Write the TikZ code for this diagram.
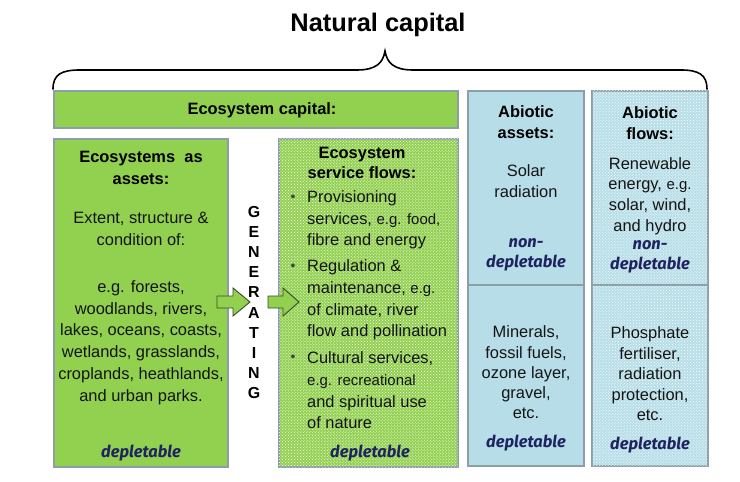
\documentclass[tikz,border=0pt]{standalone}
\usepackage{fontspec}
\setmainfont{Liberation Sans}
\newfontfamily\depfont{Fira Sans}
\usetikzlibrary{patterns}
\definecolor{grn}{HTML}{92D050}
\definecolor{blu}{HTML}{B7DEE8}
\definecolor{bord}{HTML}{8C9EA6}
\definecolor{navy}{HTML}{1F2460}
\definecolor{txt}{HTML}{141414}
\definecolor{arrline}{HTML}{3A4A2A}
\newcommand{\eg}{\fontsize{15}{20}\selectfont}
\tikzset{
  box/.style={draw=bord, line width=1.5bp, anchor=north west, inner sep=0pt, outer sep=0pt},
  gbox/.style={box, fill=grn},
  bbox/.style={box, fill=blu},
  dotted fill/.style={postaction={pattern=crosshatch dots, pattern color=white}},
  body/.style={font=\fontsize{16.5}{#1}\selectfont, align=center, inner sep=0pt, text=txt},
  body/.default={21.7bp},
  head/.style={font=\fontsize{16.5}{#1}\selectfont\bfseries, align=center, inner sep=0pt, text=black},
  head/.default={21.5bp},
  dep/.style={font=\depfont\fontsize{16.5}{20bp}\selectfont\bfseries\itshape, text=navy, inner sep=0pt, align=center},
  bul/.style={font=\fontsize{14}{16}\selectfont, inner sep=0pt, text=txt!80},
  blockarrow/.style={fill=grn, draw=arrline, line width=0.9bp, line join=miter}
}
\begin{document}
\begin{tikzpicture}[x=1bp, y=-1bp]
\useasboundingbox (0,0) rectangle (740,482);

% title and brace
\node[font=\fontsize{25.5}{30}\selectfont\bfseries, inner sep=0pt] (title) at (378,25) {Natural capital};
\draw[line width=1.6bp, line cap=round] (53,89) .. controls (53,74) and (62,70) .. (80,70)
  -- (357,70) .. controls (376,70) and (383,63) .. (385,51)
  .. controls (387,63) and (394,70) .. (413,70)
  -- (681,70) .. controls (699,70) and (707,75) .. (707,89);

% boxes
\node[gbox, minimum width=404bp, minimum height=37bp] (ecocap) at (54,91) {};
\node[gbox, minimum width=174bp, minimum height=328bp] (assets) at (54,139) {};
\node[gbox, dotted fill, minimum width=179bp, minimum height=328bp] (flows) at (279,139) {};
\node[bbox, minimum width=116bp, minimum height=194bp] (abAtop) at (468,91) {};
\node[bbox, minimum width=116bp, minimum height=181bp] (abAbot) at (468,285) {};
\node[bbox, dotted fill, minimum width=116bp, minimum height=194bp] (abFtop) at (592,91) {};
\node[bbox, dotted fill, minimum width=116bp, minimum height=181bp] (abFbot) at (592,285) {};

% ecosystem capital
\node[head] (ecocapt) at (262,110) {Ecosystem capital:};

% ecosystems as assets
\node[head={22bp}] (asst1) at (141,168) {Ecosystems~~as\\assets:};
\node[body] (asst2) at (141,229) {Extent, structure \&\\condition of:};
\node[body={21.8bp}] (asst3) at (141,342.5) {e.g. forests,\\woodlands, rivers,\\lakes, oceans, coasts,\\wetlands, grasslands,\\croplands, heathlands,\\and urban parks.};
\node[dep] (asstd) at (141,453) {depletable};

% generating
\node[font=\fontsize{16}{20.1bp}\selectfont\bfseries, align=center, inner sep=0pt] (gen) at (254,302.5) {G\\E\\N\\E\\R\\A\\T\\I\\N\\G};
\draw[blockarrow] (217,296) -- (233,296) -- (233,288) -- (250,302) -- (233,316) -- (233,308) -- (217,308) -- cycle;
\draw[blockarrow] (268,296) -- (283,296) -- (283,288) -- (299,302) -- (283,316) -- (283,308) -- (268,308) -- cycle;

% ecosystem service flows
\node[head={20.5bp}] (flt) at (362,163) {Ecosystem\\service flows:};
\node[bul] (b1) at (293,198) {\textbullet};
\node[bul] (b2) at (293,267) {\textbullet};
\node[bul] (b3) at (293,358) {\textbullet};
\node[body, align=left, anchor=west] (it1) at (307,220) {Provisioning\\services, {\eg e.g. food,}\\fibre and energy};
\node[body, align=left, anchor=west] (it2) at (307,300) {Regulation \&\\maintenance, {\eg e.g.}\\of climate, river\\flow and pollination};
\node[body, align=left, anchor=west] (it3) at (307,390.5) {Cultural services,\\{\eg e.g. recreational}\\and spiritual use\\of nature};
\node[dep] (fld) at (370,453) {depletable};

% abiotic assets
\node[head={21bp}] (aat) at (526,122.5) {Abiotic\\assets:};
\node[body={21bp}] (aa1) at (526,181.5) {Solar\\radiation};
\node[dep] (aad1) at (526,255) {non-\\depletable};
\node[body={20.3bp}] (aa2) at (526,372.5) {Minerals,\\fossil fuels,\\ozone layer,\\gravel,\\etc.};
\node[dep] (aad2) at (526,443) {depletable};

% abiotic flows
\node[head={21bp}] (aft) at (650,123) {Abiotic\\flows:};
\node[body={20.7bp}] (af1) at (650,196) {Renewable\\energy, {\eg e.g.}\\solar, wind,\\and hydro};
\node[dep] (afd1) at (650,257) {non-\\depletable};
\node[body={20.5bp}] (af2) at (650,374) {Phosphate\\fertiliser,\\radiation\\protection,\\etc.};
\node[dep] (afd2) at (650,445) {depletable};
\end{tikzpicture}
\end{document}
